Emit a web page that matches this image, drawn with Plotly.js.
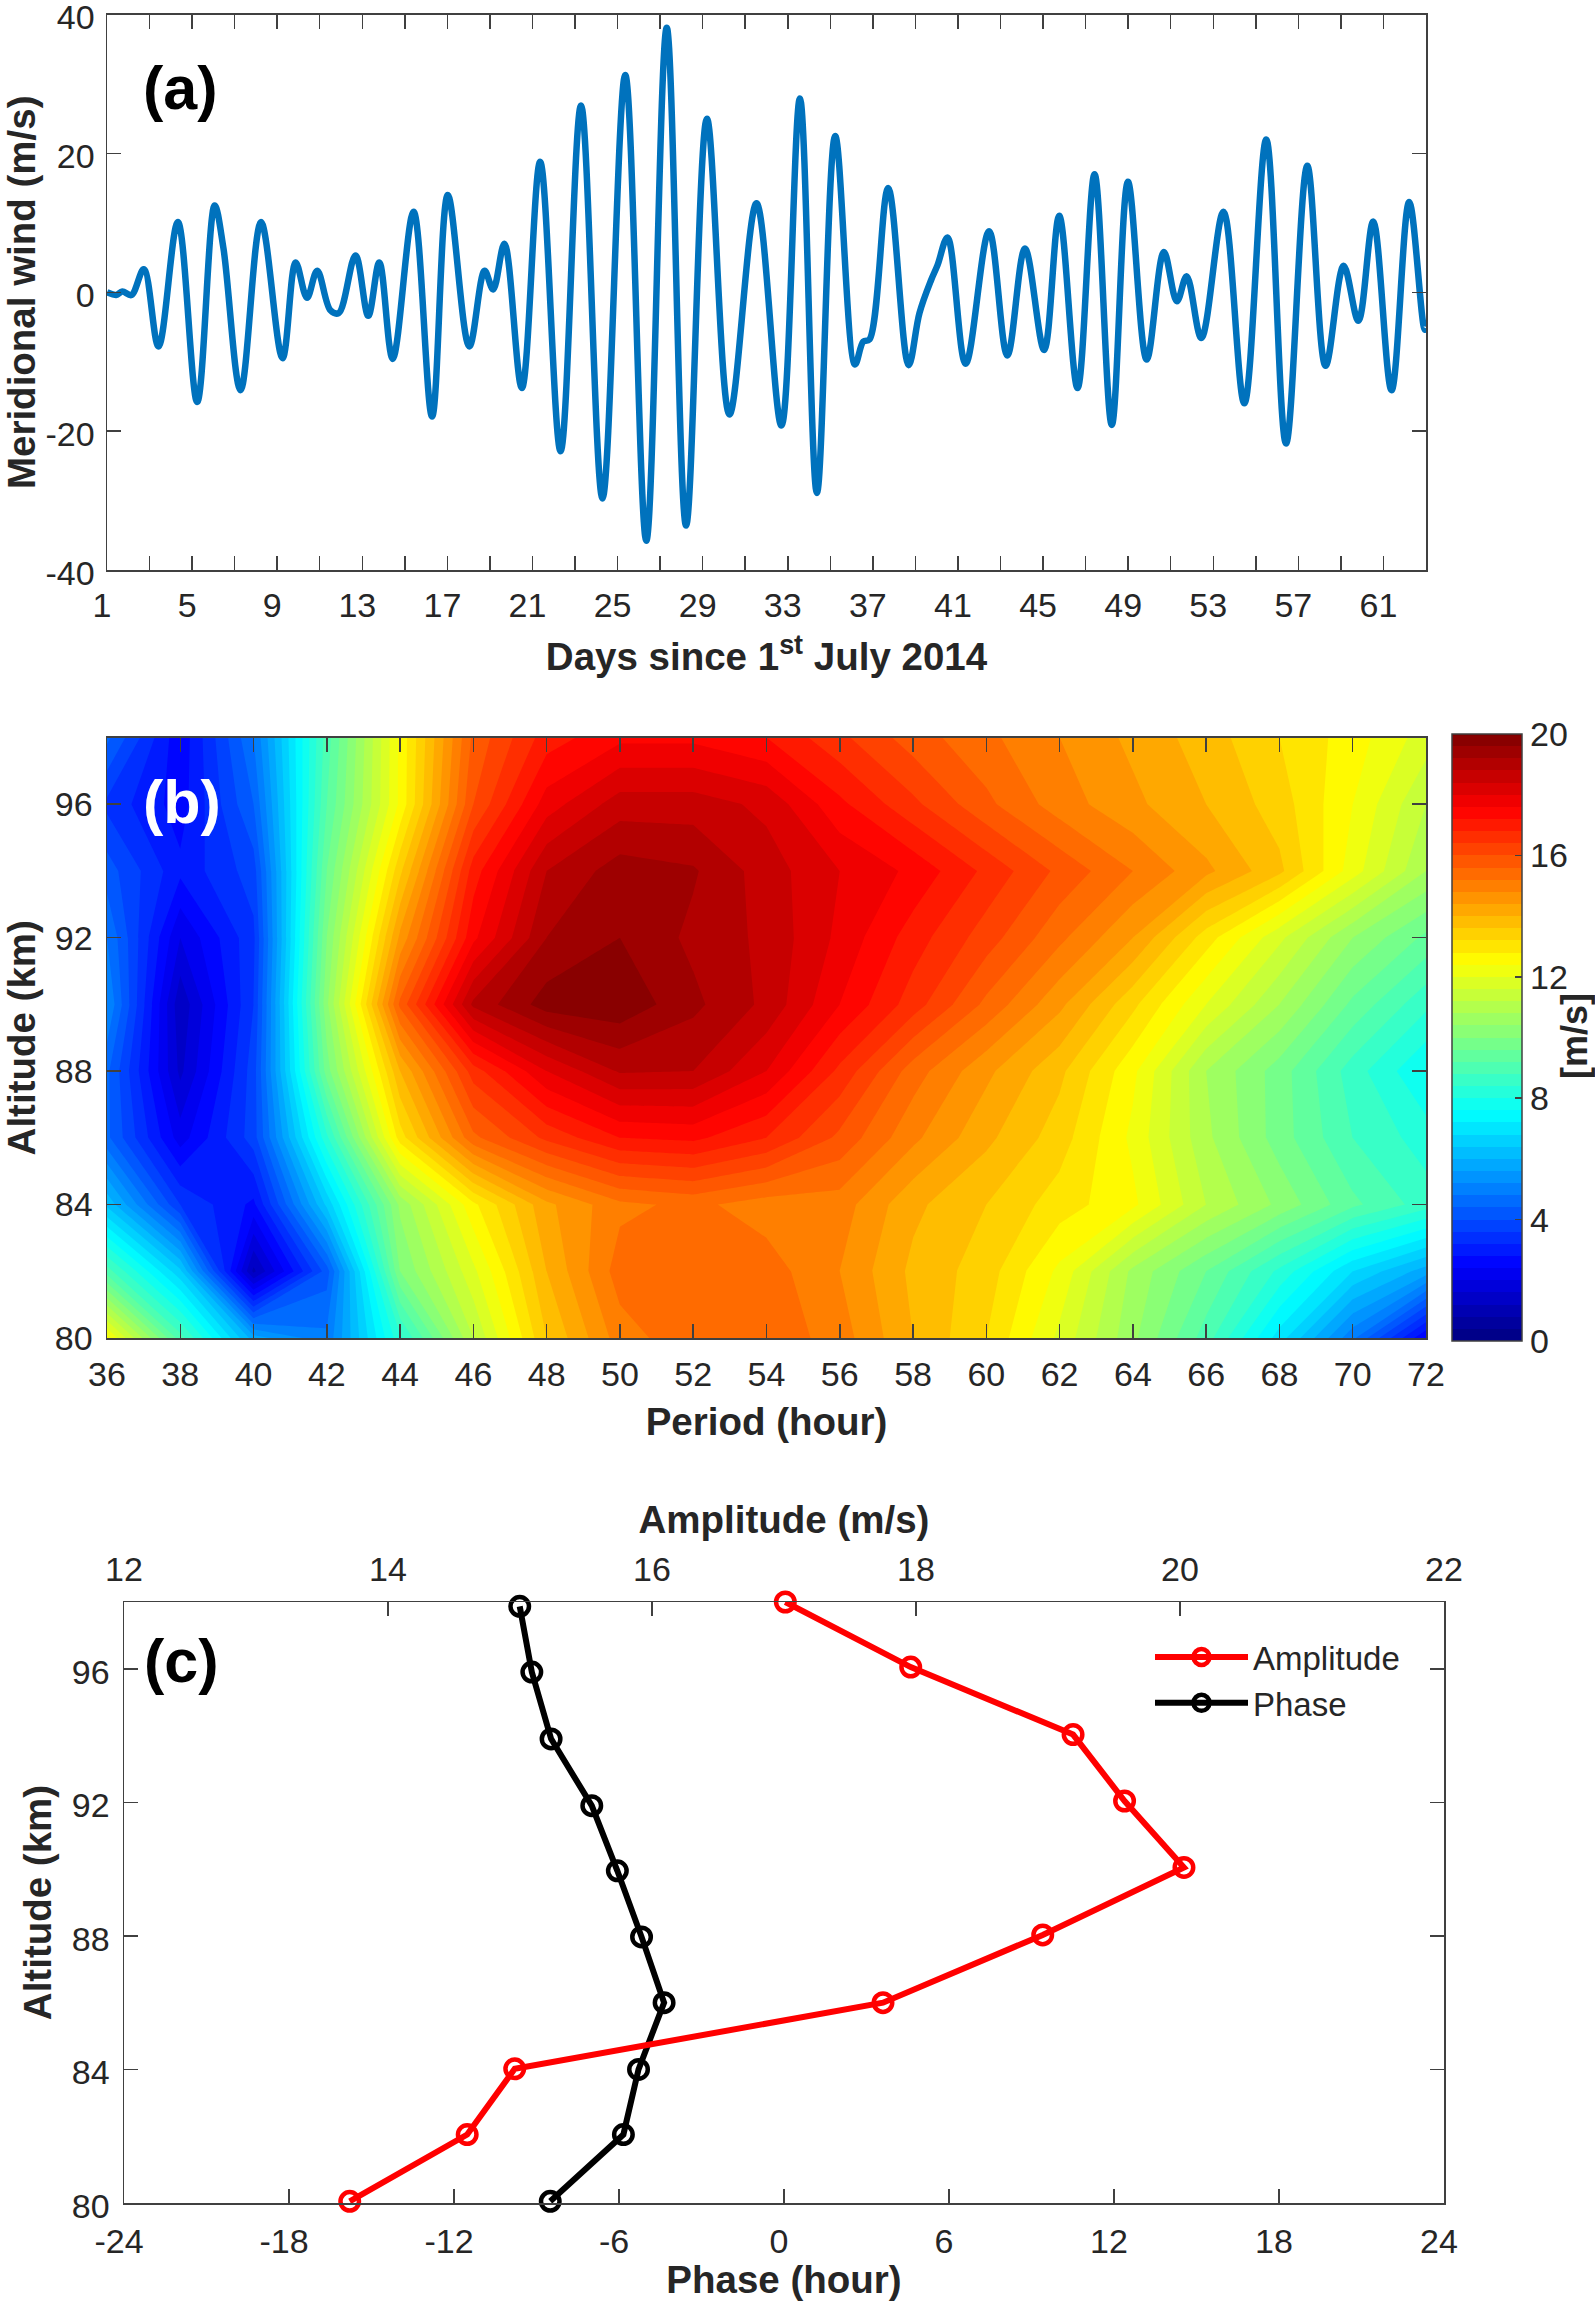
<!DOCTYPE html>
<html>
<head>
<meta charset="utf-8">
<script src="https://cdn.plot.ly/plotly-3.0.1.min.js"></script>
<style>html,body{margin:0;padding:0;background:#fff}#chart{width:1595px;height:2301px}</style>
</head>
<body>
<div id="chart"></div>
<script>
// Panel (a): turning points of the meridional wind
const windDay = [1,1.43,1.72,2.15,2.73,3.42,4.33,5.24,6.06,6.47,7.28,8.24,9.25,9.87,10.4,10.88,11.5,11.89,12.68,13.28,13.8,14.43,15.41,16.28,17.02,18.03,18.75,19.15,19.68,20.5,21.36,22.32,23.28,24.29,25.36,26.35,27.31,28.22,29.2,30.26,31.53,32.7,33.57,34.37,35.23,36.16,36.55,36.84,37.72,38.68,39.19,39.73,40.04,40.51,41.36,42.46,43.32,44.15,45.05,45.76,46.62,47.42,48.23,48.99,49.87,50.68,51.29,51.75,52.44,53.48,54.46,55.49,56.42,57.42,58.28,59.13,59.82,60.52,61.38,62.21,62.94,63];
const windSpeed = [0,-0.4,0.1,-0.4,3.3,-7.8,10.1,-15.8,12.5,6.4,-14.1,10.1,-9.5,4.3,-0.8,3.1,-2.6,-3,5.3,-3.4,4.3,-9.6,11.6,-17.9,14,-7.8,3.1,0.4,7,-13.8,18.8,-22.9,26.9,-29.7,31.3,-35.8,38.1,-33.6,25,-17.6,12.8,-19.2,27.9,-28.9,22.5,-10.4,-7.1,-6.8,15,-10.5,-3,1.7,3.9,7.9,-10.3,8.8,-9.1,6.3,-8.3,11,-13.8,17,-19.1,15.9,-9.7,5.8,-1.3,2.3,-6.6,11.6,-16,22,-21.8,18.2,-10.6,3.8,-4.1,10.2,-14.1,13,-5.4,-5.2];
const dayTickVals = [1,3,5,7,9,11,13,15,17,19,21,23,25,27,29,31,33,35,37,39,41,43,45,47,49,51,53,55,57,59,61,63];
const dayTickText = ['1','','5','','9','','13','','17','','21','','25','','29','','33','','37','','41','','45','','49','','53','','57','','61',''];
const windTickVals = [-40,-20,0,20,40];
const windTickText = ['-40','-20','0','20','40'];

// Panel (b): amplitude spectrum, one array per altitude
const period = [36,38,40,42,44,46,48,50,52,54,56,58,60,62,64,66,68,70,72];
const altitudeGrid = [80,82,84,86,88,90,92,94,96,98];
const amp80 = [12.5,9,5.8,4.9,8.3,11.2,13.6,15,15.5,15.5,15,14,13.2,11.9,10.5,9,7,4.9,2.4];
const amp82 = [9,6.5,1.1,4.2,10,11.9,14,15.4,15.6,15.4,14.8,13.9,13.4,12.3,10.7,9.6,8.3,6.8,5.8];
const amp84 = [6.3,3.6,2.7,6.5,10.5,12.7,14.3,15.1,15.3,15,15,14.1,13.6,13,12.5,11.2,10.3,9.3,8.6];
const amp86 = [4.5,2.2,3.8,8.3,13,15.5,16.5,17.2,17.3,16.8,15.9,14.9,14.1,13.4,12.3,10.9,9.8,8.8,8.2];
const amp88 = [4.5,1.5,3.8,9.8,14,16.6,18,18.85,18.8,18,16.7,15.4,14.5,13.7,12.5,10.8,9.8,8.6,7.6];
const amp90 = [5.2,1.3,3.6,10.3,15.7,18.9,19.8,19.9,19.3,18.7,17.6,16.6,15.5,14.5,13.3,12,10.8,9.5,8.5];
const amp92 = [4.8,2,3.5,10,14.5,17.5,19.2,19.6,19.1,18.7,17.9,17,16.2,15.3,14.4,13,11.7,10.4,9.5];
const amp94 = [4.2,2.9,3.8,9.6,13.5,17,18.8,19.4,19.25,18.6,18,17.5,16.7,15.9,15.2,14.5,13.7,12.2,10.8];
const amp96 = [3.5,2.6,4.4,9.2,12.5,16,17.8,18.6,18.6,18.3,17.3,16.5,15.7,15,14.5,14,13.4,12.4,11.2];
const amp98 = [4.5,2.5,4.8,9,12.5,15.7,17,17.5,17.5,17.2,16.5,15.8,15.3,14.8,14.3,13.8,13.2,12.6,11.8];
const periodTicks = [36,38,40,42,44,46,48,50,52,54,56,58,60,62,64,66,68,70,72];
const altitudeTicks = [80,84,88,92,96];
const colorbarTicks = [0,4,8,12,16,20];

// Panel (c): profiles at the spectral peak
const ampAltitude = [80.05,82.05,84.02,86,88.03,90.05,92.04,94.03,96.05,98];
const amplitude = [13.71,14.6,14.96,17.75,18.96,20.03,19.58,19.19,17.96,17.01];
const phaseAltitude = [80.05,82.05,84,86,87.97,89.95,91.9,93.9,95.9,97.87];
const phase = [-8.5,-5.84,-5.29,-4.36,-5.18,-6.06,-6.99,-8.47,-9.17,-9.61];
const phaseTickVals = [-24,-18,-12,-6,0,6,12,18,24];
const phaseTickText = ['-24','-18','-12','-6','0','6','12','18','24'];
const ampTicks = [12,14,16,18,20,22];

const W = 1595, H = 2301;
const FONT = 'Liberation Sans, Arial, sans-serif';
const INK = '#262626', AXIS = '#404040';
const hDom = (a, b) => [a / W, b / W];
const vDom = (top, bottom) => [1 - bottom / H, 1 - top / H];

const jet = [[0,'rgb(0,0,127)'],[0.125,'rgb(0,0,255)'],[0.375,'rgb(0,255,255)'],[0.625,'rgb(255,255,0)'],[0.875,'rgb(255,0,0)'],[1,'rgb(127,0,0)']];

function axisBase(extra) {
  return Object.assign({
    showgrid: false, zeroline: false, showline: true, linecolor: AXIS, linewidth: 1.5,
    ticks: 'inside', ticklen: 14, tickwidth: 1.5, tickcolor: AXIS,
    tickmode: 'array', tickfont: {family: FONT, size: 34, color: INK},
    ticklabeloverflow: 'allow', fixedrange: true
  }, extra);
}
const titleFont = {family: FONT, size: 38.5, color: INK};
const bold = s => '<b>' + s + '</b>';

const traces = [
  {type: 'scatter', mode: 'lines', x: windDay, y: windSpeed, xaxis: 'x', yaxis: 'y', showlegend: false,
   line: {color: '#0072BD', width: 6.5, shape: 'spline', smoothing: 1}},
  {type: 'contour', x: period, y: altitudeGrid,
   z: [amp80, amp82, amp84, amp86, amp88, amp90, amp92, amp94, amp96, amp98],
   xaxis: 'x2', yaxis: 'y2', colorscale: jet, zmin: 0, zmax: 20, showlegend: false,
   contours: {coloring: 'fill', start: 0, end: 20, size: 0.4, showlines: false},
   line: {width: 0, smoothing: 0},
   colorbar: {x: 1452 / W, xanchor: 'left', y: 1 - 734 / H, yanchor: 'top',
     len: 607 / H, thickness: 70, xpad: 0, ypad: 0,
     outlinewidth: 1.5, outlinecolor: AXIS, ticks: 'inside', ticklen: 7, tickwidth: 1.5, tickcolor: AXIS,
     tickmode: 'array', tickvals: colorbarTicks, ticktext: colorbarTicks.map(String),
     tickfont: {family: FONT, size: 34, color: INK}}},
  {type: 'scatter', mode: 'lines+markers', name: 'Amplitude', x: amplitude, y: ampAltitude, xaxis: 'x4', yaxis: 'y3', cliponaxis: false,
   line: {color: '#ff0000', width: 6},
   marker: {symbol: 'circle-open', size: 18.5, color: '#ff0000', line: {color: '#ff0000', width: 4.5}}},
  {type: 'scatter', mode: 'lines+markers', name: 'Phase', x: phase, y: phaseAltitude, xaxis: 'x3', yaxis: 'y3', cliponaxis: false,
   line: {color: '#000000', width: 6},
   marker: {symbol: 'circle-open', size: 18.5, color: '#000000', line: {color: '#000000', width: 4.5}}}
];

const panelLabel = (t, px, py, color) => ({
  text: bold(t), xref: 'paper', yref: 'paper', x: px / W, y: 1 - py / H, xanchor: 'center', yanchor: 'middle',
  showarrow: false, font: {family: FONT, size: 61, color}
});

const layout = {
  width: W, height: H, margin: {l: 0, r: 0, t: 0, b: 0, pad: 0, autoexpand: false},
  paper_bgcolor: '#fff', plot_bgcolor: '#fff', font: {family: FONT, color: INK},
  xaxis: axisBase({domain: hDom(107, 1426), anchor: 'y', range: [1, 63], tickvals: dayTickVals, ticktext: dayTickText, mirror: 'ticks',
    ticklabelshift: -5, ticklabelstandoff: 5, title: {text: bold('Days since 1<sup>st</sup> July 2014'), font: titleFont, standoff: 20}}),
  yaxis: axisBase({domain: vDom(14.5, 570), anchor: 'x', range: [-40, 40], tickvals: windTickVals, ticktext: windTickText, mirror: 'ticks',
    ticklabelshift: 3, ticklabelstandoff: 4, title: {text: bold('Meridional wind (m/s)'), font: titleFont, standoff: 8}}),
  xaxis2: axisBase({domain: hDom(107, 1426), anchor: 'y2', range: [36, 72], tickvals: periodTicks, ticktext: periodTicks.map(String), mirror: 'ticks',
    ticklabelstandoff: 6, title: {text: bold('Period (hour)'), font: titleFont, standoff: 16}}),
  yaxis2: axisBase({domain: vDom(737.5, 1338), anchor: 'x2', range: [80, 98], tickvals: altitudeTicks, ticktext: altitudeTicks.map(String), mirror: 'ticks',
    ticklabelstandoff: 6, title: {text: bold('Altitude (km)'), font: titleFont, standoff: 12}}),
  xaxis3: axisBase({domain: hDom(124, 1444), anchor: 'y3', range: [-24, 24], tickvals: phaseTickVals, ticktext: phaseTickText,
    ticklabelshift: -5, ticklabelstandoff: 8, title: {text: bold('Phase (hour)'), font: titleFont, standoff: 3}}),
  xaxis4: axisBase({domain: hDom(124, 1444), anchor: 'y3', overlaying: 'x3', side: 'top', range: [12, 22], tickvals: ampTicks, ticktext: ampTicks.map(String),
    ticklabelstandoff: 6, title: {text: bold('Amplitude (m/s)'), font: titleFont, standoff: 4}}),
  yaxis3: axisBase({domain: vDom(1602, 2203), anchor: 'x3', range: [80, 98], tickvals: altitudeTicks, ticktext: altitudeTicks.map(String), mirror: 'ticks',
    ticklabelshift: 3, ticklabelstandoff: 6, title: {text: bold('Altitude (km)'), font: titleFont, standoff: 8}}),
  legend: {x: 1150 / W, y: 1 - 1629 / H, xanchor: 'left', yanchor: 'top', bgcolor: 'rgba(0,0,0,0)', borderwidth: 0,
    itemwidth: 93, font: {family: FONT, size: 33, color: INK}, traceorder: 'normal'},
  annotations: [
    panelLabel('(a)', 180, 88, '#000'), panelLabel('(b)', 182, 802, '#fff'), panelLabel('(c)', 181, 1661, '#000'),
    {text: bold('[m/s]'), xref: 'paper', yref: 'paper', x: 1574 / W, y: 1 - 1036 / H, xanchor: 'center', yanchor: 'middle',
     textangle: -90, showarrow: false, font: {family: FONT, size: 36, color: INK}}
  ]
};

Plotly.newPlot('chart', traces, layout, {displayModeBar: false, staticPlot: true});
</script>
</body>
</html>
